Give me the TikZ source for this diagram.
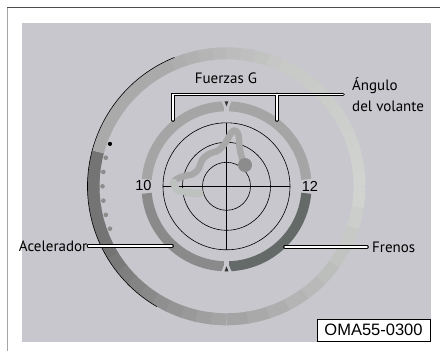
\documentclass[tikz,border=0pt]{standalone}
\usepackage{fontspec}
\setmainfont{PT Sans}
\newfontfamily\arialfont{Liberation Sans}
\usetikzlibrary{calc}

\definecolor{panelgray}{RGB}{199,199,205}
\definecolor{ringdark}{RGB}{116,116,116}
\definecolor{ringmid}{RGB}{164,164,164}
\definecolor{ringlight}{RGB}{208,211,208}
\definecolor{ringpale}{RGB}{200,202,200}
\definecolor{ringtop}{RGB}{170,170,170}
\definecolor{gaugeup}{RGB}{165,165,165}
\definecolor{gaugeleft}{RGB}{138,138,138}
\definecolor{gaugeright}{RGB}{100,106,104}
\definecolor{tracegray}{RGB}{168,168,168}
\definecolor{tracefade}{RGB}{190,194,190}
\definecolor{dotgray}{RGB}{140,140,140}

\begin{document}
\begin{tikzpicture}[x=1pt,y=1pt,
    lbl/.style={font=\fontsize{15}{21}\selectfont, inner sep=0pt},
    num/.style={font=\arialfont\fontsize{14.5}{16}\selectfont, inner sep=0pt},
    codebox/.style={draw=black, fill=white, line width=0.8pt, minimum width=113, minimum height=22, inner sep=0pt, font=\arialfont\fontsize{16.5}{18}\selectfont},
    leader/.style={white, line width=1.4pt, line cap=round, preaction={draw=black, line width=3.6pt, line cap=round}},
    gseg/.style={line width=10pt},
    notch/.style={fill=panelgray},
    pointer/.style={fill=black!80}
]
\useasboundingbox (0,0) rectangle (440,-351);

% frame and panel
\draw[black!70, line width=1pt] (7,-7.5) -- (440,-7.5);
\draw[black!35, line width=1pt] (7.5,-7.5) -- (7.5,-351);
\fill[panelgray] (22,-23) rectangle (431,-342);

\coordinate (c) at (226.5,-186.3);

% outer ring
\foreach \sa/\ea/\ca/\cb in {165/205/ringdark/ringdark, 205/270/ringdark/ringmid, 270/360/ringmid/ringlight, 360/420/ringlight/ringpale, 420/480/ringpale/ringtop, 480/525/ringtop/ringtop}{
  \foreach \t in {0,...,9}{
    \pgfmathsetmacro\from{\sa+(\ea-\sa)*\t/10}
    \pgfmathsetmacro\upto{\sa+(\ea-\sa)*(\t+1)/10+(\t<9 ? 0.6 : 0)}
    \pgfmathsetmacro\mixp{100*\t/9}
    \draw[line width=12pt, color=\cb!\mixp!\ca] ([shift={(\from:133)}]c) arc[start angle=\from, end angle=\upto, radius=133];
  }
}
\draw[black, line width=0.6pt] ([shift={(112:139)}]c) arc[start angle=112, end angle=240, radius=139];

% level dots
\foreach \k in {0,...,6}{
  \pgfmathsetmacro\ang{160+\k*20/3}
  \ifnum\k=0
    \fill[black] ([shift={(\ang:124)}]c) circle (2.1);
  \else
    \fill[dotgray] ([shift={(\ang:124)}]c) circle (2.3);
  \fi
}

% gauge ring
\draw[gseg, gaugeup] ([shift={(5:80)}]c) arc[start angle=5, end angle=88, radius=80];
\draw[gseg, gaugeup] ([shift={(92:80)}]c) arc[start angle=92, end angle=175, radius=80];
\draw[gseg, gaugeleft] ([shift={(185:80)}]c) arc[start angle=185, end angle=268, radius=80];
\draw[gseg, gaugeright] ([shift={(272:80)}]c) arc[start angle=272, end angle=355, radius=80];
\fill[notch] ([shift={(93.6:86)}]c) -- ([shift={(86.4:86)}]c) -- ([shift={(90:74)}]c) -- cycle;
\fill[notch] ([shift={(266.4:86)}]c) -- ([shift={(273.6:86)}]c) -- ([shift={(270:74)}]c) -- cycle;
\fill[pointer] ([shift={(91.3:85)}]c) -- ([shift={(88.7:85)}]c) -- ([shift={(90:80)}]c) -- cycle;
\fill[pointer] ([shift={(268.7:85)}]c) -- ([shift={(271.3:85)}]c) -- ([shift={(270:80)}]c) -- cycle;

% G-force grid
\foreach \r in {24,44,63.5}
  \draw[black, line width=0.6pt] (c) circle (\r);
\draw[black, line width=0.6pt] ($(c)+(-63.5,0)$) -- ($(c)+(63.5,0)$);
\draw[black, line width=0.6pt] ($(c)+(0,-63.5)$) -- ($(c)+(0,63.5)$);

% trace
\draw[tracegray, line width=6.5pt, line cap=round, line join=round] plot[smooth, tension=0.6] coordinates {(200,-193.3) (187,-192.5) (177,-189.5) (174,-182) (181,-177) (193,-174) (199,-168) (202,-160) (209,-154) (219,-150) (226,-142) (231,-133) (235,-130.5) (238.5,-135) (239.5,-147) (242,-158) (245,-165)};
\draw[tracefade, line width=6.5pt, line cap=round, line join=round] plot[smooth, tension=0.6] coordinates {(200,-193.3) (187,-192.5) (177,-189.5) (174,-182)};
\fill[dotgray] (245,-165) circle (7);

% labels
\node[num] (n10) at (143.5,-186) {10};
\node[num] (n12) at (310,-186) {12};
\node[lbl] (fuerzas) at (226,-78) {Fuerzas G};
\node[lbl, anchor=west, align=left] (angulo) at (352,-94.5) {Ángulo\\del volante};
\node[lbl, anchor=east] (acel) at (87.5,-246) {Acelerador};
\node[lbl, anchor=west] (frenos) at (372,-247) {Frenos};
\node[codebox] (code) at (373.5,-330) {OMA55-0300};

% leaders
\coordinate (accring) at (172,-246);
\coordinate (frring) at (285,-247);
\coordinate (brl) at (173,-120);
\coordinate (brr) at (277,-120);
\coordinate (angtip) at ([xshift=-9]angulo.west);
\draw[leader] ([xshift=1]acel.east) -- (accring);
\draw[leader] (frring) -- ([xshift=-5]frenos.west);
\draw[leader] (brl) -- (brl |- angtip) -- (angtip) (brr) -- (brr |- angtip);
\end{tikzpicture}
\end{document}
